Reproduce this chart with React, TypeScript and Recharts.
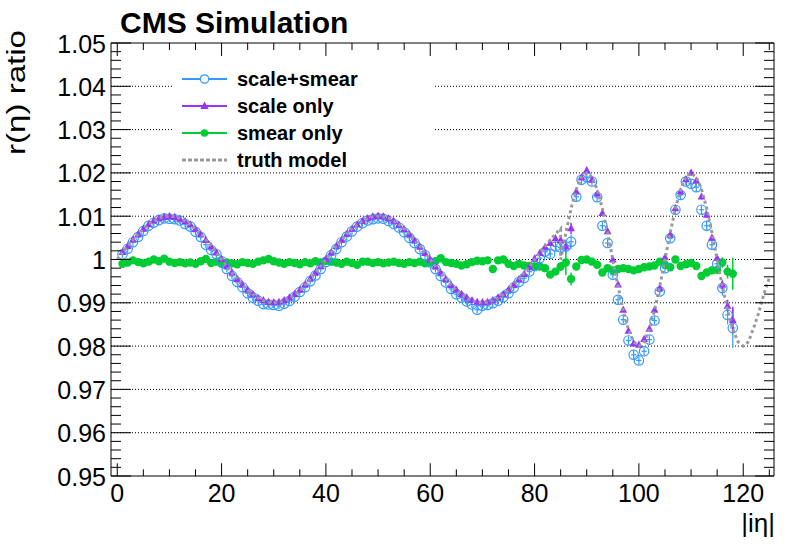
import React from "react"
import { ComposedChart, Scatter, Line, XAxis, YAxis, CartesianGrid, ErrorBar, Legend } from "recharts"

const FONT = "'Liberation Sans', Arial, Helvetica, sans-serif"

const BLUE = "#3399ff"
const PURPLE = "#9933ff"
const GREEN = "#00cc33"
const GREY = "#999999"

// |i eta| bins of the measured points
const etaBins = [
  1, 2, 3, 4, 5, 6, 7, 8, 9, 10,
  11, 12, 13, 14, 15, 16, 17, 18, 19, 20,
  21, 22, 23, 24, 25, 26, 27, 28, 29, 30,
  31, 32, 33, 34, 35, 36, 37, 38, 39, 40,
  41, 42, 43, 44, 45, 46, 47, 48, 49, 50,
  51, 52, 53, 54, 55, 56, 57, 58, 59, 60,
  61, 62, 63, 64, 65, 66, 67, 68, 69, 70,
  71, 72, 73, 74, 75, 76, 77, 78, 79, 80,
  81, 82, 83, 84, 85, 86, 87, 88, 89, 90,
  91, 92, 93, 94, 95, 96, 97, 98, 99, 100,
  101, 102, 103, 104, 105, 106, 107, 108, 109, 110,
  111, 112, 113, 114, 115, 116, 117, 118,
]

// scale+smear
const scaleSmear = [
  1.0012, 1.0025, 1.0040, 1.0052, 1.0066, 1.0078, 1.0085, 1.0091, 1.0095, 1.0094,
  1.0093, 1.0090, 1.0082, 1.0076, 1.0064, 1.0052, 1.0034, 1.0022, 1.0012, 0.9996,
  0.9978, 0.9962, 0.9948, 0.9936, 0.9922, 0.9912, 0.9905, 0.9897, 0.9896, 0.9895,
  0.9893, 0.9898, 0.9904, 0.9914, 0.9925, 0.9936, 0.9950, 0.9963, 0.9978, 0.9994,
  1.0010, 1.0024, 1.0040, 1.0053, 1.0065, 1.0076, 1.0084, 1.0090, 1.0093, 1.0095,
  1.0094, 1.0089, 1.0082, 1.0074, 1.0063, 1.0050, 1.0038, 1.0024, 1.0010, 0.9993,
  0.9978, 0.9962, 0.9947, 0.9932, 0.9920, 0.9912, 0.9903, 0.9896, 0.9884, 0.9893,
  0.9895, 0.9899, 0.9905, 0.9913, 0.9922, 0.9935, 0.9948, 0.9957, 0.9972, 0.9985,
  1.0003, 1.0018, 1.0013, 1.0030, 1.0028, 1.0030, 1.0041, 1.0145, 1.0184, 1.0190,
  1.0180, 1.0144, 1.0078, 1.0038, 0.9965, 0.9907, 0.9861, 0.9813, 0.9780, 0.9767,
  0.9788, 0.9815, 0.9859, 0.9926, 0.9980, 1.0049, 1.0115, 1.0149, 1.0180, 1.0175,
  1.0167, 1.0115, 1.0078, 1.0034, 0.9990, 0.9934, 0.9872, 0.9842,
]
const scaleSmearErr = [
  0.0008, 0.0008, 0.0008, 0.0008, 0.0008, 0.0008, 0.0008, 0.0008, 0.0008, 0.0008,
  0.0008, 0.0008, 0.0008, 0.0008, 0.0008, 0.0008, 0.0008, 0.0008, 0.0008, 0.0008,
  0.0008, 0.0008, 0.0008, 0.0008, 0.0008, 0.0008, 0.0008, 0.0008, 0.0008, 0.0008,
  0.0008, 0.0008, 0.0008, 0.0008, 0.0008, 0.0008, 0.0008, 0.0008, 0.0008, 0.0008,
  0.0008, 0.0008, 0.0008, 0.0008, 0.0008, 0.0008, 0.0008, 0.0008, 0.0008, 0.0008,
  0.0008, 0.0008, 0.0008, 0.0008, 0.0008, 0.0008, 0.0008, 0.0008, 0.0008, 0.0008,
  0.0008, 0.0008, 0.0008, 0.0008, 0.0008, 0.0008, 0.0008, 0.0008, 0.0008, 0.0008,
  0.0008, 0.0008, 0.0008, 0.0008, 0.0008, 0.0008, 0.0008, 0.0008, 0.0008, 0.0008,
  0.0009, 0.0009, 0.0010, 0.0011, 0.0014, 0.0016, 0.0017, 0.0012, 0.0010, 0.0009,
  0.0009, 0.0009, 0.0009, 0.0009, 0.0009, 0.0009, 0.0009, 0.0009, 0.0009, 0.0009,
  0.0009, 0.0009, 0.0009, 0.0009, 0.0009, 0.0009, 0.0009, 0.0009, 0.0009, 0.0009,
  0.0010, 0.0010, 0.0011, 0.0012, 0.0014, 0.0017, 0.0022, 0.0046,
]

// scale only
const scaleOnly = [
  1.0017, 1.0031, 1.0046, 1.0058, 1.0071, 1.0081, 1.0090, 1.0095, 1.0098, 1.0100,
  1.0098, 1.0094, 1.0088, 1.0081, 1.0070, 1.0058, 1.0045, 1.0030, 1.0016, 1.0001,
  0.9985, 0.9970, 0.9955, 0.9942, 0.9930, 0.9920, 0.9911, 0.9906, 0.9902, 0.9901,
  0.9902, 0.9906, 0.9912, 0.9920, 0.9930, 0.9942, 0.9956, 0.9970, 0.9985, 1.0001,
  1.0016, 1.0031, 1.0045, 1.0059, 1.0071, 1.0081, 1.0089, 1.0095, 1.0099, 1.0101,
  1.0099, 1.0095, 1.0089, 1.0080, 1.0070, 1.0058, 1.0044, 1.0030, 1.0015, 1.0000,
  0.9984, 0.9969, 0.9955, 0.9941, 0.9930, 0.9920, 0.9912, 0.9906, 0.9902, 0.9901,
  0.9902, 0.9906, 0.9912, 0.9920, 0.9930, 0.9941, 0.9954, 0.9966, 0.9982, 1.0002,
  1.0015, 1.0028, 1.0038, 1.0049, 1.0045, 1.0030, 1.0072, 1.0157, 1.0190, 1.0206,
  1.0184, 1.0152, 1.0107, 1.0065, 1.0000, 0.9942, 0.9884, 0.9835, 0.9806, 0.9803,
  0.9816, 0.9840, 0.9884, 0.9934, 1.0005, 1.0057, 1.0118, 1.0157, 1.0185, 1.0200,
  1.0182, 1.0145, 1.0103, 1.0050, 1.0003, 0.9942, 0.9893, 0.9860,
]
const scaleOnlyErr = [
  0.0004, 0.0004, 0.0004, 0.0004, 0.0004, 0.0004, 0.0004, 0.0004, 0.0004, 0.0004,
  0.0004, 0.0004, 0.0004, 0.0004, 0.0004, 0.0004, 0.0004, 0.0004, 0.0004, 0.0004,
  0.0004, 0.0004, 0.0004, 0.0004, 0.0004, 0.0004, 0.0004, 0.0004, 0.0004, 0.0004,
  0.0004, 0.0004, 0.0004, 0.0004, 0.0004, 0.0004, 0.0004, 0.0004, 0.0004, 0.0004,
  0.0004, 0.0004, 0.0004, 0.0004, 0.0004, 0.0004, 0.0004, 0.0004, 0.0004, 0.0004,
  0.0004, 0.0004, 0.0004, 0.0004, 0.0004, 0.0004, 0.0004, 0.0004, 0.0004, 0.0004,
  0.0004, 0.0004, 0.0004, 0.0004, 0.0004, 0.0004, 0.0004, 0.0004, 0.0004, 0.0004,
  0.0004, 0.0004, 0.0004, 0.0004, 0.0004, 0.0004, 0.0004, 0.0004, 0.0004, 0.0004,
  0.0004, 0.0005, 0.0005, 0.0006, 0.0008, 0.0010, 0.0013, 0.0008, 0.0006, 0.0005,
  0.0005, 0.0005, 0.0005, 0.0005, 0.0005, 0.0005, 0.0005, 0.0005, 0.0005, 0.0005,
  0.0005, 0.0005, 0.0005, 0.0005, 0.0005, 0.0005, 0.0005, 0.0005, 0.0005, 0.0005,
  0.0005, 0.0006, 0.0006, 0.0007, 0.0008, 0.0010, 0.0014, 0.0031,
]

// smear only
const smearOnly = [
  0.9990, 0.9993, 0.9998, 0.9994, 0.9991, 0.9995, 1.0000, 0.9996, 1.0002, 0.9995,
  0.9992, 0.9994, 0.9991, 0.9993, 0.9990, 0.9996, 1.0001, 0.9992, 0.9995, 0.9990,
  0.9993, 0.9991, 0.9989, 0.9994, 0.9992, 0.9990, 0.9995, 0.9998, 1.0001, 0.9996,
  0.9993, 0.9990, 0.9994, 0.9992, 0.9989, 0.9994, 0.9991, 0.9996, 0.9993, 0.9997,
  0.9995, 0.9993, 0.9990, 0.9995, 0.9992, 0.9988, 0.9995, 0.9995, 0.9992, 0.9994,
  0.9991, 0.9993, 0.9995, 0.9992, 0.9990, 0.9994, 0.9992, 0.9995, 0.9991, 0.9993,
  0.9996, 1.0003, 0.9994, 0.9992, 0.9990, 0.9986, 0.9989, 0.9994, 0.9997, 0.9996,
  0.9998, 0.9978, 0.9998, 1.0000, 0.9990, 0.9985, 0.9990, 0.9986, 0.9985, 0.9984,
  0.9984, 0.9980, 0.9965, 0.9972, 0.9984, 0.9993, 0.9955, 0.9984, 0.9999, 1.0000,
  0.9995, 0.9988, 0.9970, 0.9980, 0.9975, 0.9978, 0.9980, 0.9978, 0.9975, 0.9978,
  0.9982, 0.9984, 0.9986, 0.9995, 0.9988, 0.9982, 1.0000, 0.9985, 0.9989, 0.9992,
  0.9985, 0.9962, 0.9970, 0.9975, 0.9976, 0.9993, 0.9972, 0.9967,
]
const smearOnlyErr = [
  0.0004, 0.0004, 0.0004, 0.0004, 0.0004, 0.0004, 0.0004, 0.0004, 0.0004, 0.0004,
  0.0004, 0.0004, 0.0004, 0.0004, 0.0004, 0.0004, 0.0004, 0.0004, 0.0004, 0.0004,
  0.0004, 0.0004, 0.0004, 0.0004, 0.0004, 0.0004, 0.0004, 0.0004, 0.0004, 0.0004,
  0.0004, 0.0004, 0.0004, 0.0004, 0.0004, 0.0004, 0.0004, 0.0004, 0.0004, 0.0004,
  0.0004, 0.0004, 0.0004, 0.0004, 0.0004, 0.0004, 0.0004, 0.0004, 0.0004, 0.0004,
  0.0004, 0.0004, 0.0004, 0.0004, 0.0004, 0.0004, 0.0004, 0.0004, 0.0004, 0.0004,
  0.0004, 0.0004, 0.0004, 0.0004, 0.0004, 0.0004, 0.0004, 0.0004, 0.0004, 0.0004,
  0.0004, 0.0004, 0.0004, 0.0004, 0.0004, 0.0004, 0.0004, 0.0004, 0.0004, 0.0004,
  0.0004, 0.0005, 0.0006, 0.0007, 0.0010, 0.0029, 0.0015, 0.0008, 0.0006, 0.0005,
  0.0005, 0.0005, 0.0005, 0.0005, 0.0005, 0.0005, 0.0005, 0.0005, 0.0005, 0.0005,
  0.0005, 0.0005, 0.0005, 0.0005, 0.0005, 0.0005, 0.0005, 0.0005, 0.0005, 0.0005,
  0.0006, 0.0007, 0.0008, 0.0009, 0.0010, 0.0012, 0.0016, 0.0037,
]

// truth model curve (the step at 85 is in the model)
const truthEta = [
  0, 1, 2, 3, 4, 5, 6, 7, 8, 9, 10,
  11, 12, 13, 14, 15, 16, 17, 18, 19, 20,
  21, 22, 23, 24, 25, 26, 27, 28, 29, 30,
  31, 32, 33, 34, 35, 36, 37, 38, 39, 40,
  41, 42, 43, 44, 45, 46, 47, 48, 49, 50,
  51, 52, 53, 54, 55, 56, 57, 58, 59, 60,
  61, 62, 63, 64, 65, 66, 67, 68, 69, 70,
  71, 72, 73, 74, 75, 76, 77, 78, 79, 80,
  81, 82, 83, 84, 85, 85,
  86, 87, 88, 89, 90, 91, 92, 93, 94, 95,
  96, 97, 98, 99, 100, 101, 102, 103, 104, 105,
  106, 107, 108, 109, 110, 111, 112, 113, 114, 115,
  116, 117, 118, 119, 120, 121, 122, 123, 124, 125,
]
const truthRatio = [
  1.0000, 1.0016, 1.0031, 1.0045, 1.0059, 1.0071, 1.0081, 1.0089, 1.0095, 1.0099, 1.0100,
  1.0099, 1.0095, 1.0089, 1.0081, 1.0071, 1.0059, 1.0045, 1.0031, 1.0016, 1.0000,
  0.9984, 0.9969, 0.9955, 0.9941, 0.9929, 0.9919, 0.9911, 0.9905, 0.9901, 0.9900,
  0.9901, 0.9905, 0.9911, 0.9919, 0.9929, 0.9941, 0.9955, 0.9969, 0.9984, 1.0000,
  1.0016, 1.0031, 1.0045, 1.0059, 1.0071, 1.0081, 1.0089, 1.0095, 1.0099, 1.0100,
  1.0099, 1.0095, 1.0089, 1.0081, 1.0071, 1.0059, 1.0045, 1.0031, 1.0016, 1.0000,
  0.9984, 0.9969, 0.9955, 0.9941, 0.9929, 0.9919, 0.9911, 0.9905, 0.9901, 0.9900,
  0.9901, 0.9905, 0.9911, 0.9919, 0.9929, 0.9941, 0.9955, 0.9969, 0.9984, 1.0000,
  1.0016, 1.0031, 1.0045, 1.0059, 1.0071, 1.0000,
  1.0062, 1.0118, 1.0162, 1.0190, 1.0200, 1.0190, 1.0162, 1.0118, 1.0062, 1.0000,
  0.9938, 0.9882, 0.9838, 0.9810, 0.9800, 0.9810, 0.9838, 0.9882, 0.9938, 1.0000,
  1.0062, 1.0118, 1.0162, 1.0190, 1.0200, 1.0190, 1.0162, 1.0118, 1.0062, 1.0000,
  0.9938, 0.9882, 0.9838, 0.9810, 0.9800, 0.9810, 0.9842, 0.9878, 0.9922, 0.9957,
]

const BIN_HALF = 0.5

// axis ticks
const xMajor = [0, 20, 40, 60, 80, 100, 120]
const xTicks = [0, 5, 10, 15, 20, 25, 30, 35, 40, 45, 50, 55, 60, 65, 70, 75, 80, 85, 90, 95, 100, 105, 110, 115, 120, 125]
const yMajor = [0.95, 0.96, 0.97, 0.98, 0.99, 1, 1.01, 1.02, 1.03, 1.04, 1.05]
const yGrid = [0.96, 0.97, 0.98, 0.99, 1, 1.01, 1.02, 1.03, 1.04]
const yTicks: number[] = []
yMajor.forEach((v, i) => {
  yTicks.push(v)
  if (i < yMajor.length - 1) {
    for (let k = 1; k < 5; k++) yTicks.push(Number((v + ((yMajor[i + 1] - v) * k) / 5).toFixed(4)))
  }
})

const toPoints = (vals: number[], errs: number[]) =>
  etaBins.map((eta, i) => ({ x: eta, y: vals[i], ey: errs[i], ex: BIN_HALF }))

const scaleSmearPts = toPoints(scaleSmear, scaleSmearErr)
const scaleOnlyPts = toPoints(scaleOnly, scaleOnlyErr)
const smearOnlyPts = toPoints(smearOnly, smearOnlyErr)
const truthPts = truthEta.map((x, i) => ({ x, y: truthRatio[i] }))

const isIn = (list: number[], v: number) => list.some((m) => Math.abs(m - v) < 1e-9)

// ROOT style ticks, all drawn inside the frame
function BottomTick({ x, y, payload }: any) {
  const major = isIn(xMajor, payload.value)
  return (
    <g>
      <line x1={x} y1={y} x2={x} y2={y - (major ? 12.7 : 6.7)} stroke="#000" strokeWidth={1} />
      {major && (
        <text x={x} y={y + 26} textAnchor="middle" fontFamily={FONT} fontSize={25} fill="#000">
          {payload.value}
        </text>
      )}
    </g>
  )
}

function TopTick({ x, y, payload }: any) {
  const major = isIn(xMajor, payload.value)
  return <line x1={x} y1={y} x2={x} y2={y + (major ? 13 : 7)} stroke="#000" strokeWidth={1} />
}

function LeftTick({ x, y, payload }: any) {
  const major = isIn(yMajor, payload.value)
  return (
    <g>
      <line x1={x} y1={y} x2={x + (major ? 20 : 10)} y2={y} stroke="#000" strokeWidth={1} />
      {major && (
        <text x={x - 5} y={y + 9.5} textAnchor="end" fontFamily={FONT} fontSize={25} fill="#000">
          {String(payload.value)}
        </text>
      )}
    </g>
  )
}

function RightTick({ x, y, payload }: any) {
  const major = isIn(yMajor, payload.value)
  return <line x1={x} y1={y} x2={x - (major ? 19 : 10)} y2={y} stroke="#000" strokeWidth={1} />
}

// markers
const OpenCircle = (p: any) => (
  <circle cx={p.cx} cy={p.cy} r={4.7} fill="none" stroke={BLUE} strokeWidth={1.2} />
)
const Triangle = (p: any) => (
  <polygon
    points={`${p.cx},${p.cy - 4.3} ${p.cx + 3.9},${p.cy + 2.9} ${p.cx - 3.9},${p.cy + 2.9}`}
    fill={PURPLE}
  />
)
const Dot = (p: any) => <circle cx={p.cx} cy={p.cy} r={4.2} fill={GREEN} />

const legendItems = [
  { name: "scale+smear", color: BLUE, marker: "open" },
  { name: "scale only", color: PURPLE, marker: "tri" },
  { name: "smear only", color: GREEN, marker: "dot" },
  { name: "truth model", color: GREY, marker: "none" },
]

function LegendBox() {
  return (
    <svg width={263} height={108} style={{ display: "block", background: "#fff" }}>
      {legendItems.map((item, i) => {
        const cy = 17 + i * 27
        const mx = 32.5
        return (
          <g key={item.name}>
            {item.marker === "none" ? (
              <line x1={10} y1={cy} x2={55} y2={cy} stroke={item.color} strokeWidth={3} strokeDasharray="4 2" />
            ) : (
              <line x1={10} y1={cy} x2={55} y2={cy} stroke={item.color} strokeWidth={2} />
            )}
            {item.marker === "open" && <circle cx={mx} cy={cy} r={4.2} fill="#fff" stroke={item.color} strokeWidth={1.2} />}
            {item.marker === "tri" && (
              <polygon points={`${mx},${cy - 4.5} ${mx + 4.2},${cy + 3} ${mx - 4.2},${cy + 3}`} fill={item.color} />
            )}
            {item.marker === "dot" && <circle cx={mx} cy={cy} r={3.8} fill={item.color} />}
            <text x={65} y={cy + 7} fontFamily={FONT} fontWeight="bold" fontSize={20} fill="#000">
              {item.name}
            </text>
          </g>
        )
      })}
    </svg>
  )
}

const TitleLabel = () => (
  <text x={120} y={33} fontFamily={FONT} fontWeight="bold" fontSize={30} fill="#000">
    CMS Simulation
  </text>
)
const YTitle = () => (
  <text
    x={25}
    y={92.5}
    transform="rotate(-90 25 92.5)"
    textAnchor="middle"
    fontFamily={FONT}
    fontSize={25}
    textLength={125}
    lengthAdjust="spacingAndGlyphs"
    fill="#000"
  >
    r(η) ratio
  </text>
)
const XTitle = () => (
  <text x={775} y={532} textAnchor="end" fontFamily={FONT} fontSize={26} fill="#000">
    |iη|
  </text>
)

export default function App() {
  const xDomain = [-1.2, 125.9]
  const yDomain = [0.95, 1.05]
  return (
    <div style={{ position: "absolute", left: 0, top: 0, width: 798, height: 548, background: "#fff" }}>
      <ComposedChart width={798} height={548} margin={{ top: 0, right: 0, bottom: 0, left: 0 }}>
        <CartesianGrid vertical={false} horizontalValues={yGrid} stroke="#000" strokeDasharray="1 2" strokeWidth={1} />
        <XAxis
          type="number"
          dataKey="x"
          domain={xDomain}
          allowDataOverflow
          ticks={xTicks}
          interval={0}
          height={72}
          tickSize={0}
          tickMargin={0}
          tickLine={false}
          tick={BottomTick}
          axisLine={{ stroke: "#000", strokeWidth: 1 }}
          label={XTitle}
        />
        <XAxis
          xAxisId="top"
          orientation="top"
          type="number"
          dataKey="x"
          domain={xDomain}
          allowDataOverflow
          ticks={xTicks}
          interval={0}
          height={43}
          tickSize={0}
          tickMargin={0}
          tickLine={false}
          tick={TopTick}
          axisLine={{ stroke: "#000", strokeWidth: 1 }}
          label={TitleLabel}
        />
        <YAxis
          type="number"
          dataKey="y"
          domain={yDomain}
          allowDataOverflow
          ticks={yTicks}
          interval={0}
          width={111}
          tickSize={0}
          tickMargin={0}
          tickLine={false}
          tick={LeftTick}
          axisLine={{ stroke: "#000", strokeWidth: 1 }}
          label={YTitle}
        />
        <YAxis
          yAxisId="right"
          orientation="right"
          type="number"
          dataKey="y"
          domain={yDomain}
          allowDataOverflow
          ticks={yTicks}
          interval={0}
          width={24}
          tickSize={0}
          tickMargin={0}
          tickLine={false}
          tick={RightTick}
          axisLine={{ stroke: "#000", strokeWidth: 1 }}
        />
        <Scatter name="smear only" data={smearOnlyPts} dataKey="y" shape={Dot} isAnimationActive={false}>
          <ErrorBar dataKey="ey" direction="y" width={0} stroke={GREEN} strokeWidth={1.5} />
          <ErrorBar dataKey="ex" direction="x" width={0} stroke={GREEN} strokeWidth={1.5} />
        </Scatter>
        <Scatter name="scale+smear" data={scaleSmearPts} dataKey="y" shape={OpenCircle} isAnimationActive={false}>
          <ErrorBar dataKey="ey" direction="y" width={0} stroke={BLUE} strokeWidth={1.2} />
          <ErrorBar dataKey="ex" direction="x" width={0} stroke={BLUE} strokeWidth={1.2} />
        </Scatter>
        <Scatter name="scale only" data={scaleOnlyPts} dataKey="y" shape={Triangle} isAnimationActive={false}>
          <ErrorBar dataKey="ey" direction="y" width={0} stroke={PURPLE} strokeWidth={1.5} />
        </Scatter>
        <Line
          name="truth model"
          data={truthPts}
          dataKey="y"
          type="linear"
          stroke={GREY}
          strokeWidth={3}
          strokeDasharray="3 3"
          dot={false}
          activeDot={false}
          zIndex={700}
          isAnimationActive={false}
        />
        <Legend
          verticalAlign="middle"
          align="center"
          layout="horizontal"
          content={LegendBox}
          wrapperStyle={{ left: 172, top: 62, width: 263, height: 108 }}
        />
      </ComposedChart>
    </div>
  )
}
